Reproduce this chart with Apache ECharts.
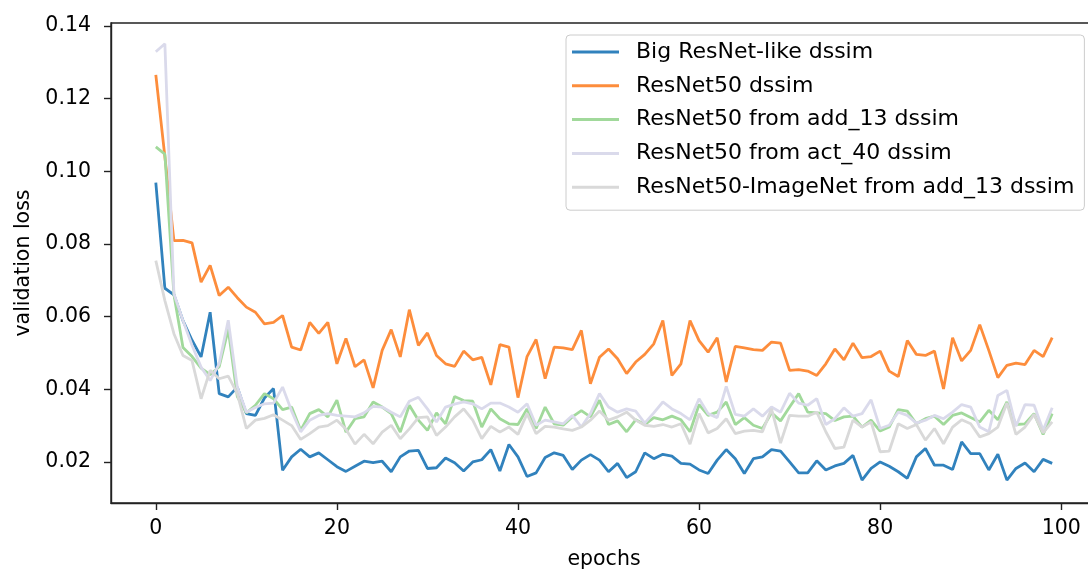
<!DOCTYPE html>
<html>
<head>
<meta charset="utf-8">
<script src="https://cdn.jsdelivr.net/npm/echarts@6/dist/echarts.min.js"></script>
<style>html,body{margin:0;padding:0;background:#fff;}#c{width:1088px;height:572px;}</style>
</head>
<body>
<div id="c"></div>
<script>
const seriesNames = [
  'Big ResNet-like dssim',
  'ResNet50 dssim',
  'ResNet50 from add_13 dssim',
  'ResNet50 from act_40 dssim',
  'ResNet50-ImageNet from add_13 dssim'
];
const xTicks = [0, 20, 40, 60, 80, 100];
const yTicks = [0.02, 0.04, 0.06, 0.08, 0.10, 0.12, 0.14];

const bigResNet = [
  0.0969,0.0678,0.0660,0.0589,0.0535,0.0489,0.0612,0.0388,0.0379,0.0406,
  0.0333,0.0328,0.0376,0.0402,0.0177,0.0214,0.0235,0.0214,0.0225,0.0206,
  0.0187,0.0174,0.0188,0.0202,0.0198,0.0202,0.0173,0.0214,0.0230,0.0232,
  0.0182,0.0184,0.0211,0.0198,0.0175,0.0200,0.0206,0.0234,0.0175,0.0248,
  0.0214,0.0160,0.0170,0.0212,0.0225,0.0218,0.0179,0.0205,0.0220,0.0205,
  0.0173,0.0196,0.0157,0.0173,0.0225,0.0209,0.0221,0.0216,0.0196,0.0194,
  0.0178,0.0168,0.0205,0.0234,0.0209,0.0168,0.0209,0.0214,0.0234,0.0230,
  0.0200,0.0170,0.0170,0.0203,0.0178,0.0189,0.0196,0.0218,0.0150,0.0182,
  0.0200,0.0188,0.0173,0.0155,0.0214,0.0237,0.0191,0.0191,0.0179,0.0255,
  0.0223,0.0223,0.0178,0.0221,0.0150,0.0182,0.0197,0.0173,0.0207,0.0196
];
const resnet50 = [
  0.1265,0.1040,0.0809,0.0810,0.0803,0.0695,0.0741,0.0658,0.0681,0.0652,
  0.0626,0.0612,0.0580,0.0584,0.0603,0.0516,0.0508,0.0584,0.0554,0.0584,
  0.0470,0.0540,0.0462,0.0481,0.0404,0.0507,0.0564,0.0489,0.0619,0.0521,
  0.0555,0.0493,0.0470,0.0463,0.0505,0.0481,0.0488,0.0412,0.0523,0.0516,
  0.0377,0.0490,0.0537,0.0429,0.0516,0.0514,0.0509,0.0562,0.0415,0.0488,
  0.0511,0.0484,0.0443,0.0475,0.0496,0.0525,0.0589,0.0438,0.0470,0.0589,
  0.0534,0.0502,0.0542,0.0420,0.0518,0.0514,0.0509,0.0507,0.0530,0.0527,
  0.0452,0.0454,0.0450,0.0438,0.0470,0.0511,0.0481,0.0527,0.0487,0.0490,
  0.0505,0.0450,0.0435,0.0534,0.0496,0.0493,0.0505,0.0401,0.0542,0.0478,
  0.0507,0.0578,0.0507,0.0432,0.0466,0.0472,0.0468,0.0507,0.0490,0.0542
];
const fromAdd13 = [
  0.1067,0.1047,0.0660,0.0515,0.0490,0.0458,0.0440,0.0462,0.0565,0.0380,
  0.0335,0.0356,0.0388,0.0374,0.0344,0.0351,0.0287,0.0333,0.0344,0.0324,
  0.0370,0.0282,0.0319,0.0324,0.0365,0.0351,0.0333,0.0282,0.0356,0.0315,
  0.0287,0.0335,0.0305,0.0380,0.0369,0.0367,0.0296,0.0346,0.0319,0.0305,
  0.0303,0.0346,0.0292,0.0351,0.0305,0.0301,0.0324,0.0341,0.0324,0.0370,
  0.0303,0.0313,0.0283,0.0316,0.0303,0.0322,0.0316,0.0326,0.0316,0.0283,
  0.0358,0.0328,0.0337,0.0365,0.0303,0.0322,0.0301,0.0292,0.0335,0.0313,
  0.0351,0.0388,0.0337,0.0335,0.0333,0.0314,0.0324,0.0326,0.0296,0.0315,
  0.0285,0.0296,0.0344,0.0340,0.0305,0.0319,0.0326,0.0303,0.0328,0.0335,
  0.0322,0.0310,0.0342,0.0316,0.0365,0.0303,0.0305,0.0333,0.0276,0.0333
];
const fromAct40 = [
  0.1329,0.1351,0.0663,0.0589,0.0521,0.0461,0.0424,0.0470,0.0590,0.0406,
  0.0337,0.0350,0.0360,0.0362,0.0406,0.0340,0.0283,0.0315,0.0328,0.0333,
  0.0328,0.0326,0.0324,0.0335,0.0353,0.0351,0.0337,0.0324,0.0367,0.0378,
  0.0346,0.0310,0.0351,0.0359,0.0365,0.0360,0.0346,0.0362,0.0362,0.0351,
  0.0337,0.0360,0.0301,0.0315,0.0310,0.0305,0.0328,0.0296,0.0333,0.0388,
  0.0351,0.0337,0.0346,0.0340,0.0307,0.0335,0.0365,0.0346,0.0333,0.0316,
  0.0374,0.0333,0.0322,0.0408,0.0331,0.0326,0.0346,0.0326,0.0351,0.0337,
  0.0389,0.0362,0.0356,0.0374,0.0303,0.0319,0.0349,0.0326,0.0333,0.0371,
  0.0292,0.0301,0.0337,0.0328,0.0307,0.0315,0.0328,0.0319,0.0337,0.0358,
  0.0351,0.0296,0.0283,0.0383,0.0397,0.0298,0.0358,0.0356,0.0287,0.0349
];
const imagenetAdd13 = [
  0.0754,0.0644,0.0553,0.0493,0.0479,0.0374,0.0452,0.0429,0.0436,0.0388,
  0.0292,0.0315,0.0320,0.0330,0.0315,0.0300,0.0262,0.0278,0.0296,0.0300,
  0.0315,0.0290,0.0249,0.0276,0.0250,0.0282,0.0301,0.0264,0.0291,0.0322,
  0.0324,0.0273,0.0296,0.0324,0.0346,0.0315,0.0264,0.0298,0.0282,0.0296,
  0.0276,0.0333,0.0278,0.0298,0.0296,0.0291,0.0287,0.0296,0.0315,0.0340,
  0.0315,0.0324,0.0337,0.0315,0.0301,0.0298,0.0303,0.0296,0.0305,0.0249,
  0.0333,0.0280,0.0292,0.0319,0.0278,0.0285,0.0287,0.0283,0.0346,0.0252,
  0.0328,0.0326,0.0326,0.0337,0.0283,0.0237,0.0241,0.0315,0.0296,0.0310,
  0.0228,0.0230,0.0305,0.0292,0.0303,0.0260,0.0292,0.0250,0.0296,0.0316,
  0.0305,0.0269,0.0278,0.0296,0.0362,0.0276,0.0296,0.0331,0.0280,0.0310
];

const colors = ['#3182bd', '#fd8d3c', '#a1d99b', '#dadaeb', '#d9d9d9'];
const allValues = [bigResNet, resnet50, fromAdd13, fromAct40, imagenetAdd13];
const FONT = 'DejaVu Sans';

const chart = echarts.init(document.getElementById('c'), null, {renderer: 'canvas'});
const series = allValues.map((vals, k) => ({
  name: seriesNames[k],
  type: 'line',
  data: vals.map((v, i) => [i, v]),
  showSymbol: false,
  symbol: 'none',
  lineStyle: {color: colors[k], width: 2.8},
  itemStyle: {color: colors[k]},
  emphasis: {disabled: true},
  animation: false
}));

chart.setOption({
  animation: false,
  backgroundColor: '#ffffff',
  grid: {
    left: 111, top: 23, width: 986, height: 480,
    containLabel: false, outerBoundsMode: 'none',
    show: true, borderColor: '#222', borderWidth: 1.4, backgroundColor: 'transparent'
  },
  xAxis: {
    type: 'value', min: -4.95, max: 103.95,
    name: 'epochs', nameLocation: 'middle', nameGap: 46,
    nameTextStyle: {fontFamily: FONT, fontSize: 20.5, color: '#000'},
    axisLine: {show: true, onZero: false, lineStyle: {color: '#222', width: 1.4}},
    axisTick: {show: true, length: 7, lineStyle: {color: '#222', width: 1.4}, customValues: xTicks},
    axisLabel: {fontFamily: FONT, fontSize: 20.5, color: '#000', margin: 15, customValues: xTicks},
    splitLine: {show: false}
  },
  yAxis: {
    type: 'value', min: 0.0087, max: 0.1408,
    name: 'validation loss', nameLocation: 'middle', nameGap: 76, nameRotate: 90,
    nameTextStyle: {fontFamily: FONT, fontSize: 20.5, color: '#000'},
    axisLine: {show: true, onZero: false, lineStyle: {color: '#222', width: 1.4}},
    axisTick: {show: true, length: 7, lineStyle: {color: '#222', width: 1.4}, customValues: yTicks},
    axisLabel: {fontFamily: FONT, fontSize: 20.5, color: '#000', margin: 20, customValues: yTicks,
      formatter: v => v.toFixed(2)},
    splitLine: {show: false}
  },
  legend: {
    orient: 'vertical', left: 566, top: 35,
    padding: [6, 10, 12, 6],
    itemWidth: 47, itemHeight: 3, itemGap: 11.8,
    icon: 'rect',
    backgroundColor: 'rgba(255,255,255,0.85)',
    borderColor: '#cccccc', borderWidth: 1, borderRadius: 4,
    textStyle: {fontFamily: FONT, fontSize: 22, color: '#000', lineHeight: 22, padding: [0, 0, 0, 12]},
    data: seriesNames,
    z: 10
  },
  series: series
});
</script>
</body>
</html>
